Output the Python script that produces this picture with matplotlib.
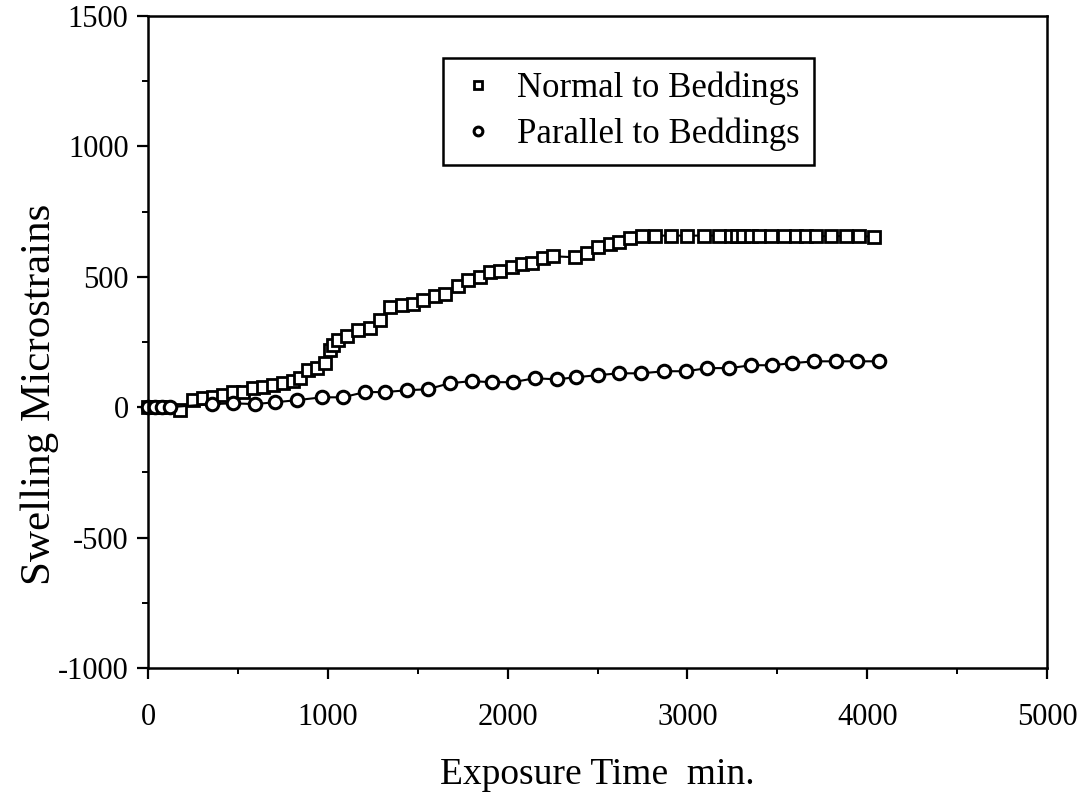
import matplotlib
matplotlib.use("Agg")
import matplotlib.pyplot as plt
from matplotlib.ticker import MultipleLocator

plt.rcParams['font.family'] = ['Liberation Serif', 'DejaVu Serif']
plt.rcParams['axes.unicode_minus'] = False

# Normal to beddings (squares)
normal_t = [0, 30, 60, 90, 178, 250, 306, 361, 417, 472, 528, 583, 639, 694, 750, 806,
            844, 889, 939, 983, 1011, 1028, 1056, 1106, 1167, 1233, 1289, 1344, 1411,
            1472, 1528, 1594, 1650, 1722, 1778, 1844, 1900, 1956, 2022, 2078, 2133,
            2194, 2250, 2372, 2439, 2500, 2567, 2622, 2678, 2750, 2822, 2911, 3000,
            3094, 3178, 3244, 3278, 3311, 3356, 3400, 3467, 3539, 3606, 3661, 3717,
            3800, 3883, 3956, 4039]
normal_v = [0, 0, 0, 0, -12, 27, 35, 38, 46, 58, 58, 73, 77, 84, 92, 100,
            111, 142, 150, 169, 219, 238, 257, 272, 295, 303, 334, 383, 391,
            395, 410, 426, 433, 464, 487, 498, 518, 521, 537, 548, 552,
            571, 579, 575, 590, 613, 625, 633, 648, 658, 658, 658, 658,
            658, 658, 656, 656, 656, 656, 656, 656, 656, 656, 656, 656,
            656, 656, 656, 654]

# Parallel to beddings (circles)
par_t = [0, 40, 80, 120, 356, 472, 594, 706, 828, 967, 1083, 1206, 1317, 1439, 1556,
         1678, 1800, 1911, 2028, 2150, 2272, 2383, 2500, 2622, 2744, 2872, 2994,
         3111, 3233, 3356, 3472, 3583, 3706, 3828, 3944, 4067]
par_v = [0, 0, 0, 0, 12, 15, 12, 19, 27, 38, 38, 58, 58, 65, 69,
         92, 100, 96, 96, 111, 107, 115, 123, 130, 130, 138, 138,
         150, 150, 161, 161, 169, 176, 176, 176, 176]

fig = plt.figure(figsize=(10.82, 7.93), dpi=100)
ax = fig.add_axes([0.1368, 0.1576, 0.8309, 0.8222])

ax.plot(normal_t, normal_v, color='black', linewidth=1.5, marker='s', markersize=8,
        markerfacecolor='white', markeredgecolor='black', markeredgewidth=2.0,
        label='Normal to Beddings', clip_on=False)
ax.plot(par_t, par_v, color='black', linewidth=1.5, marker='o', markersize=9,
        markerfacecolor='white', markeredgecolor='black', markeredgewidth=2.2,
        label='Parallel to Beddings', clip_on=False)

ax.set_xlim(0, 5000)
ax.set_ylim(-1000, 1500)
ax.xaxis.set_major_locator(MultipleLocator(1000))
ax.xaxis.set_minor_locator(MultipleLocator(500))
ax.yaxis.set_major_locator(MultipleLocator(500))
ax.yaxis.set_minor_locator(MultipleLocator(250))
ax.tick_params(which='major', direction='out', length=8, width=1.6, labelsize=22)
ax.tick_params(which='minor', direction='out', length=4, width=1.4)
ax.tick_params(axis='x', pad=17)
ax.tick_params(axis='y', pad=6)
for s in ax.spines.values():
    s.set_linewidth(1.8)

ax.set_xlabel('Exposure Time  min.', fontsize=27)
ax.set_ylabel('Swelling Microstrains', fontsize=31)
ax.xaxis.label.set_va('center')
ax.yaxis.label.set_va('center')
ax.xaxis.set_label_coords(0.5, -0.164)
ax.yaxis.set_label_coords(-0.120, 0.419)

leg = ax.legend(loc='upper left', bbox_to_anchor=(0.328, 0.9356), fontsize=25,
                frameon=True, fancybox=False, edgecolor='black', framealpha=1,
                markerscale=0.7, handlelength=1.2, handletextpad=0.54,
                borderpad=0.4, labelspacing=0.35, borderaxespad=0)
leg.get_frame().set_linewidth(1.8)
for line in leg.get_lines():
    line.set_linestyle('none')

fig.savefig('out.png', dpi=100)
